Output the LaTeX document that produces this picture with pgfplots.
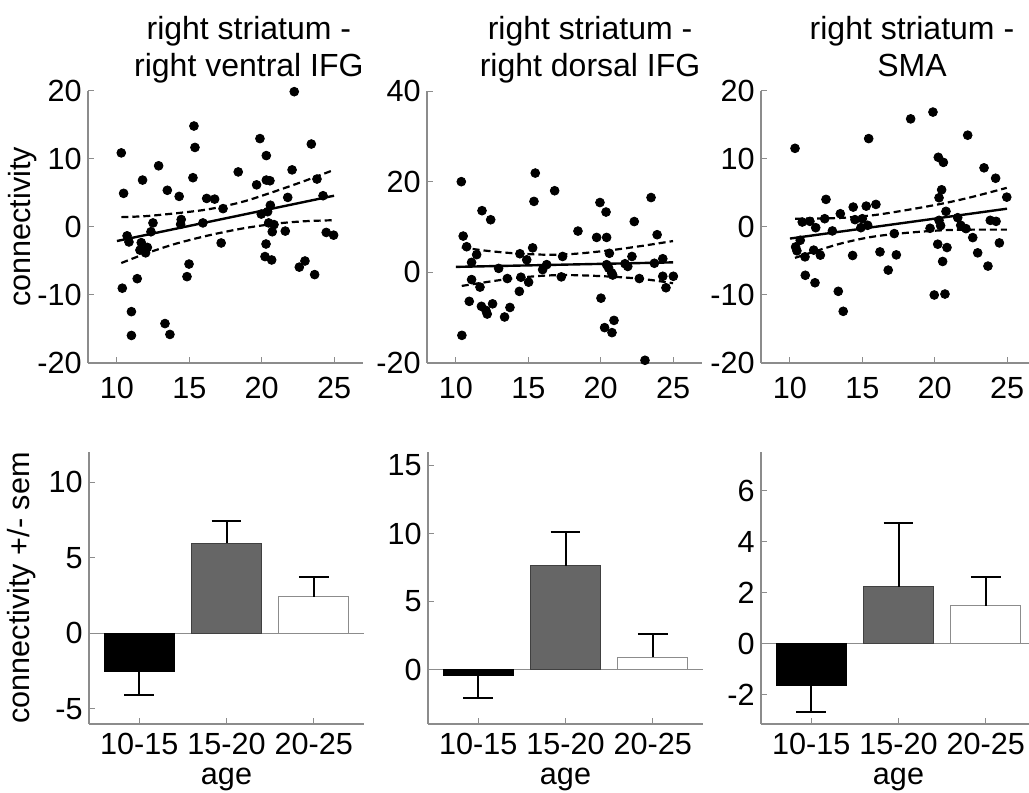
\documentclass[border=0pt]{standalone}
\usepackage{fontspec}
\setmainfont{Liberation Sans}
\usepackage{pgfplots}
\usepackage{pgfplotstable}
\pgfplotsset{compat=1.18}

\definecolor{axgray}{gray}{0.55}
\definecolor{bargray}{gray}{0.4}

\pgfplotstableread{
x y
10.3 10.9
10.46 4.95
10.7 -1.3
10.83 -2.2
10.37 -9.0
11.0 -12.45
11.0 -15.95
11.4 -7.6
11.68 -2.3
11.59 -3.4
11.98 -3.8
12.1 -3.0
11.77 6.9
12.35 -0.7
12.49 0.6
12.88 9.0
13.48 5.4
13.32 -14.2
13.66 -15.8
14.3 4.5
14.44 1.1
14.4 0.4
14.84 -7.3
14.98 -5.45
15.25 7.25
15.39 11.7
15.32 14.85
15.94 0.6
16.2 4.2
16.75 4.1
17.2 -2.35
17.33 2.7
18.38 8.1
19.65 6.2
19.88 13.0
20.32 10.5
20.32 6.9
20.57 6.8
20.6 3.2
19.97 1.9
20.41 2.25
20.48 0.6
20.85 0.35
20.73 -0.7
20.3 -2.5
20.23 -4.35
20.69 -4.85
21.63 -0.6
21.8 4.35
22.1 8.4
22.25 19.9
22.6 -5.9
22.99 -5.0
23.43 12.2
23.66 -7.0
23.82 7.05
24.24 4.6
24.46 -0.8
24.97 -1.2
}\scatA

\pgfplotstableread{
x y
10.37 20.0
10.5 8.0
10.74 5.65
11.08 2.2
11.43 3.9
11.08 -1.6
11.66 -3.26
10.92 -6.4
10.41 -13.9
11.8 13.6
12.4 11.6
11.76 -7.5
12.07 -8.4
12.16 -9.2
12.53 -6.95
12.95 0.87
13.55 -1.37
13.36 -9.85
13.73 -7.75
14.42 4.1
14.49 -1.08
14.38 -4.2
14.89 2.76
15.02 -2.17
15.3 5.4
15.39 15.65
15.48 21.9
15.99 0.6
16.27 1.7
16.82 18.0
17.28 -1.0
17.37 3.5
18.43 9.1
19.72 7.7
19.95 15.4
20.37 13.3
20.41 7.7
20.6 4.2
20.41 1.7
20.55 0.95
20.76 -0.14
20.83 -0.6
20.02 -5.7
20.27 -12.2
20.78 -13.3
20.92 -10.6
21.68 1.9
21.87 1.3
22.16 3.5
22.32 11.2
22.67 -1.37
23.06 -19.4
23.48 16.5
23.71 2.0
23.9 8.3
24.29 3.0
24.29 -0.87
24.51 -3.4
25.02 -0.87
}\scatB

\pgfplotstableread{
x y
10.35 11.57
10.39 -2.93
10.48 -3.5
10.71 -1.95
10.85 0.73
11.38 0.83
11.04 -4.39
11.06 -7.1
11.73 -8.2
11.64 -3.4
12.1 -4.14
11.78 -0.1
12.4 1.22
12.49 4.06
12.93 -0.58
13.48 1.95
13.34 -9.46
13.68 -12.4
14.33 -4.19
14.37 2.93
14.49 1.08
14.9 -0.1
15.0 1.22
15.27 3.07
15.37 0.25
15.44 13.0
15.94 3.32
16.22 -3.66
16.79 -6.34
17.21 -0.97
17.35 -4.1
18.34 15.9
19.68 -0.19
19.88 16.9
19.97 -10.0
20.71 -9.86
20.21 -2.53
20.55 -5.07
20.85 -3.02
20.25 10.25
20.6 9.5
20.48 5.47
20.3 4.3
20.78 2.3
20.3 0.98
20.41 0.2
21.59 1.37
21.8 0.25
22.16 -0.24
22.28 13.5
22.63 -1.56
22.97 -3.8
23.41 8.7
23.68 -5.75
23.84 0.98
24.21 7.17
24.24 0.83
24.47 -2.34
24.98 4.39
}\scatC

\pgfplotsset{
  every axis title shift=0pt,
  base/.style={
    scale only axis, width=137.5pt, height=136pt,
    axis x line*=bottom, axis y line*=left,
    axis line style={draw=axgray, line width=0.6pt, -},
    every tick/.style={axgray, line width=0.5pt},
    tick align=inside, major tick length=3pt,
    tick label style={font=\fontsize{15.3}{18}\selectfont, text=black},
    label style={font=\fontsize{15.3}{18}\selectfont},
    /pgf/number format/assume math mode=true,
    clip=false,
    yticklabel style={anchor=east, inner sep=0pt, xshift=-3pt},
    title style={anchor=south, align=center, yshift=0pt,
      inner sep=0pt, font=\fontsize{16}{18.5}\selectfont},
  },
  scat/.style={base, xmin=8, xmax=27, xtick={10,15,20,25},
    xticklabel style={anchor=north, inner sep=0pt, yshift=-7pt}},
  bars/.style={base, xmin=0.425, xmax=3.575, xtick={1,2,3},
    xticklabels={10-15,15-20,20-25},
    xticklabel style={anchor=north, inner sep=0pt, yshift=-4.5pt},
    xlabel={age},
    xlabel style={at={(axis description cs:0.5,-0.162)}, anchor=north, inner sep=0pt}},
  dot/.style={only marks, mark=*, mark size=2.2pt, black},
  fit/.style={black, line width=1.2pt, no marks},
  band/.style={black, line width=1.1pt, no marks, smooth, dash pattern=on 3.5pt off 2pt},
  eb/.style={black, line width=1pt, no marks},
}

\begin{document}
\begin{tikzpicture}
\path[use as bounding box] (0,0) rectangle (514.5pt,396.5pt);

% ---------- top row ----------
\begin{axis}[scat, at={(44pt,215pt)}, anchor=south west,
  ymin=-20, ymax=20, ytick={-20,-10,0,10,20},
  title={right striatum -\\right ventral IFG\strut},
  title style={at={(axis description cs:0.585,1.011)}},
  ylabel={connectivity},
  ylabel style={at={(axis description cs:-0.185,0.5)}, anchor=south, inner sep=0pt}]
\addplot[dot] table {\scatA};
\addplot[fit] coordinates {(10,-2.06) (25,4.6)};
\addplot[band] coordinates {(10.3,1.45) (12,1.6) (14,2.0) (16,2.5) (17.5,3.1) (19,3.9) (21,5.3) (23,6.8) (25,8.4)};
\addplot[band] coordinates {(10.3,-5.3) (12,-3.9) (14,-2.5) (16,-1.4) (17.5,-0.7) (19,-0.1) (21,0.5) (23,0.85) (25,1.0)};
\end{axis}

\begin{axis}[scat, at={(213.5pt,215pt)}, anchor=south west,
  ymin=-20, ymax=40, ytick={-20,0,20,40},
  title={right striatum -\\right dorsal IFG\strut},
  title style={at={(axis description cs:0.593,1.011)}}]
\addplot[dot] table {\scatB};
\addplot[fit] coordinates {(10,1.2) (25,2.2)};
\addplot[band] coordinates {(10.4,5.5) (12,4.8) (14,4.2) (16,3.9) (17.5,3.95) (19,4.3) (21,5.0) (23,5.9) (25,6.9)};
\addplot[band] coordinates {(10.4,-3.0) (12,-2.2) (14,-1.3) (16,-0.75) (17.5,-0.6) (19,-0.7) (21,-1.0) (23,-1.5) (25,-2.4)};
\end{axis}

\begin{axis}[scat, at={(380.5pt,215pt)}, anchor=south west,
  ymin=-20, ymax=20, ytick={-20,-10,0,10,20},
  title={right striatum -\\SMA\strut},
  title style={at={(axis description cs:0.549,1.011)}}]
\addplot[dot] table {\scatC};
\addplot[fit] coordinates {(10,-1.7) (25,2.69)};
\addplot[band] coordinates {(10.35,1.22) (13.34,1.32) (15.64,1.7) (17.95,2.45) (20.48,3.42) (22.55,4.4) (24.98,5.76)};
\addplot[band] coordinates {(10.35,-4.54) (13.34,-2.53) (15.64,-1.46) (17.95,-0.88) (20.48,-0.49) (22.55,-0.39) (24.98,-0.39)};
\end{axis}

% ---------- bottom row ----------
\begin{axis}[bars, at={(44.5pt,34.5pt)}, anchor=south west,
  ymin=-6, ymax=12, ytick={-5,0,5,10},
  ylabel={connectivity +/- sem},
  ylabel style={at={(axis description cs:-0.19,0.5)}, anchor=south, inner sep=0pt}]
\addplot[axgray, line width=0.6pt, no marks] coordinates {(0.425,0) (3.575,0)};
\addplot[ybar, bar width=0.8, bar shift=0pt, fill=black, draw=black] coordinates {(1,-2.55)};
\addplot[ybar, bar width=0.8, bar shift=0pt, fill=bargray, draw=black!75] coordinates {(2,5.95)};
\addplot[ybar, bar width=0.8, bar shift=0pt, fill=white, draw=axgray] coordinates {(3,2.42)};
\addplot[eb] coordinates {(1,-2.55) (1,-4.05)};
\addplot[eb] coordinates {(0.83,-4.05) (1.17,-4.05)};
\addplot[eb] coordinates {(2,5.95) (2,7.45)};
\addplot[eb] coordinates {(1.83,7.45) (2.17,7.45)};
\addplot[eb] coordinates {(3,2.42) (3,3.72)};
\addplot[eb] coordinates {(2.83,3.72) (3.17,3.72)};
\end{axis}

\begin{axis}[bars, at={(214pt,34.5pt)}, anchor=south west,
  ymin=-4, ymax=16, ytick={0,5,10,15}]
\addplot[axgray, line width=0.6pt, no marks] coordinates {(0.425,0) (3.575,0)};
\addplot[ybar, bar width=0.8, bar shift=0pt, fill=black, draw=black] coordinates {(1,-0.45)};
\addplot[ybar, bar width=0.8, bar shift=0pt, fill=bargray, draw=black!75] coordinates {(2,7.65)};
\addplot[ybar, bar width=0.8, bar shift=0pt, fill=white, draw=axgray] coordinates {(3,0.9)};
\addplot[eb] coordinates {(1,-0.45) (1,-2.1)};
\addplot[eb] coordinates {(0.83,-2.1) (1.17,-2.1)};
\addplot[eb] coordinates {(2,7.65) (2,10.1)};
\addplot[eb] coordinates {(1.83,10.1) (2.17,10.1)};
\addplot[eb] coordinates {(3,0.9) (3,2.6)};
\addplot[eb] coordinates {(2.83,2.6) (3.17,2.6)};
\end{axis}

\begin{axis}[bars, at={(380.5pt,34.5pt)}, anchor=south west,
  ymin=-3.15, ymax=7.52, ytick={-2,0,2,4,6}]
\addplot[axgray, line width=0.6pt, no marks] coordinates {(0.425,0) (3.575,0)};
\addplot[ybar, bar width=0.8, bar shift=0pt, fill=black, draw=black] coordinates {(1,-1.65)};
\addplot[ybar, bar width=0.8, bar shift=0pt, fill=bargray, draw=black!75] coordinates {(2,2.24)};
\addplot[ybar, bar width=0.8, bar shift=0pt, fill=white, draw=axgray] coordinates {(3,1.49)};
\addplot[eb] coordinates {(1,-1.65) (1,-2.67)};
\addplot[eb] coordinates {(0.83,-2.67) (1.17,-2.67)};
\addplot[eb] coordinates {(2,2.24) (2,4.75)};
\addplot[eb] coordinates {(1.83,4.75) (2.17,4.75)};
\addplot[eb] coordinates {(3,1.49) (3,2.63)};
\addplot[eb] coordinates {(2.83,2.63) (3.17,2.63)};
\end{axis}
\end{tikzpicture}
\end{document}
